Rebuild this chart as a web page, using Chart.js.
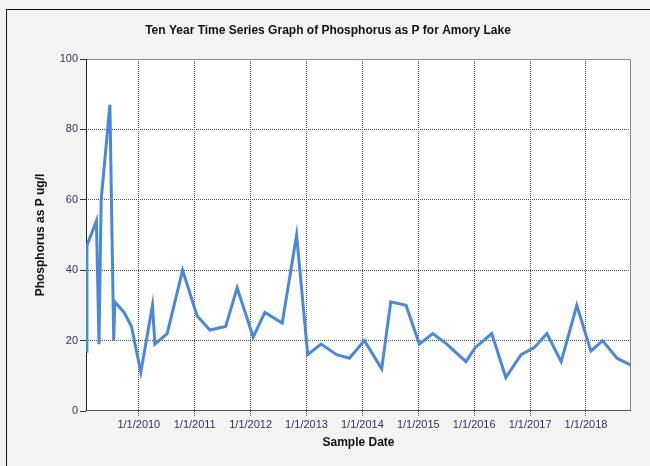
<!DOCTYPE html>
<html><head><meta charset="utf-8">
<script src="https://cdn.jsdelivr.net/npm/chart.js@4.4.1/dist/chart.umd.min.js"></script>
<style>html,body{margin:0;padding:0;background:#f3f3f3;}#wrap{width:650px;height:466px;}</style>
</head><body><div id="wrap"><canvas id="c" width="650" height="466"></canvas></div>
<script>
const chartTitle = 'Ten Year Time Series Graph of Phosphorus as P for Amory Lake';
const xTitle = 'Sample Date';
const yTitle = 'Phosphorus as P ug/l';
const sampleDates = [
  '2009-01-24','2009-01-27','2009-03-30','2009-04-16','2009-04-30','2009-06-26','2009-07-21','2009-07-28',
  '2009-09-27','2009-11-14','2010-01-14','2010-03-31','2010-04-16','2010-07-05','2010-10-14',
  '2011-01-17','2011-04-10','2011-07-22','2011-10-05','2012-01-18','2012-04-03','2012-07-26','2012-10-28',
  '2013-01-09','2013-04-06','2013-07-17','2013-10-08','2014-01-14','2014-05-07','2014-07-05','2014-10-13',
  '2015-01-08','2015-04-06','2015-07-06','2015-11-08','2016-01-07','2016-04-25','2016-07-26','2016-11-03',
  '2017-01-28','2017-04-21','2017-07-23','2017-11-02','2018-02-02','2018-04-19','2018-07-23','2018-10-22'
];
const phosphorus = [
  17, 47, 54, 19, 60, 87, 20, 31,
  28, 24, 11, 30, 19, 22, 40,
  27, 23, 24, 35, 21, 28, 25, 50,
  16, 19, 16, 15, 20, 12, 31, 30,
  19, 22, 19, 14, 18, 22, 9.5, 16,
  18, 22, 14, 30, 17, 20, 15, 13
];
const xRange = ['2009-01-21', '2018-10-22'];
const tickYears = [2010, 2011, 2012, 2013, 2014, 2015, 2016, 2017, 2018];
const yTicks = [0, 20, 40, 60, 80, 100];

function toYear(s) {
  const p = s.split('-').map(Number);
  const t = Date.UTC(p[0], p[1] - 1, p[2]);
  const a = Date.UTC(p[0], 0, 1), b = Date.UTC(p[0] + 1, 0, 1);
  return p[0] + (t - a) / (b - a);
}
const points = sampleDates.map((d, i) => ({ x: toYear(d), y: phosphorus[i] }));

Chart.defaults.font.family = "'Liberation Sans', Arial, sans-serif";

const framePlugin = {
  id: 'frame',
  beforeDraw(chart) {
    const ctx = chart.ctx, a = chart.chartArea;
    ctx.save();
    ctx.fillStyle = '#f3f3f3';
    ctx.fillRect(0, 0, chart.width, chart.height);
    ctx.fillStyle = '#111';
    ctx.fillRect(6, 9, chart.width - 6, 1);
    ctx.fillRect(6, 9, 1, chart.height - 9);
    ctx.fillStyle = '#ffffff';
    ctx.fillRect(a.left, a.top, a.right - a.left, a.bottom - a.top);
    ctx.restore();
  },
  beforeDatasetsDraw(chart) {
    const ctx = chart.ctx, a = chart.chartArea;
    ctx.save();
    ctx.lineWidth = 1;
    ctx.strokeStyle = '#8a8a8a';
    ctx.beginPath();
    ctx.moveTo(a.left, a.top + 0.5); ctx.lineTo(a.right - 0.5, a.top + 0.5); ctx.lineTo(a.right - 0.5, a.bottom);
    ctx.stroke();
    ctx.strokeStyle = '#555';
    ctx.beginPath();
    ctx.moveTo(a.left, a.bottom - 0.5); ctx.lineTo(a.right, a.bottom - 0.5);
    ctx.stroke();
    ctx.strokeStyle = '#222';
    ctx.beginPath();
    ctx.moveTo(a.left + 0.5, a.top); ctx.lineTo(a.left + 0.5, a.bottom);
    ctx.stroke();
    ctx.restore();
  }
};

new Chart(document.getElementById('c'), {
  type: 'line',
  data: {
    datasets: [{
      data: points,
      borderColor: '#4a88dc',
      borderWidth: 3,
      pointRadius: 0,
      tension: 0,
      fill: false
    }]
  },
  options: {
    responsive: false,
    animation: false,
    devicePixelRatio: 1,
    layout: { padding: { left: 25, right: 19, top: 10, bottom: 0 } },
    plugins: {
      legend: { display: false },
      tooltip: { enabled: false },
      title: {
        display: true,
        text: chartTitle,
        fullSize: true,
        color: '#111',
        font: { size: 12, weight: 'bold' },
        padding: { top: 13, bottom: 21.6 }
      }
    },
    scales: {
      x: {
        type: 'linear',
        min: toYear(xRange[0]),
        max: toYear(xRange[1]),
        afterBuildTicks: s => { s.ticks = tickYears.map(v => ({ value: v })); },
        afterFit: s => { s.height = 55; },
        ticks: {
          autoSkip: false, maxRotation: 0, minRotation: 0,
          color: '#333355', font: { size: 11 }, padding: 2,
          callback: v => '1/1/' + v
        },
        grid: {
          color: '#555', lineWidth: 1, tickLength: 5,
          tickColor: '#555', tickBorderDash: [1, 1]
        },
        border: { display: false, dash: [1, 1] },
        title: {
          display: true, text: xTitle, color: '#111',
          font: { size: 12, weight: 'bold' }, padding: { top: 0, bottom: 16 }
        }
      },
      y: {
        min: 0, max: 100,
        afterBuildTicks: s => { s.ticks = yTicks.map(v => ({ value: v })); },
        afterFit: s => { s.width = 61; },
        ticks: { color: '#333355', font: { size: 11 }, padding: 2 },
        grid: {
          color: c => (c.tick && (c.tick.value === 0 || c.tick.value === 100)) ? 'rgba(0,0,0,0)' : '#555',
          lineWidth: 1, tickLength: 6,
          tickColor: '#333', tickBorderDash: []
        },
        border: { display: false, dash: [1, 1] },
        title: {
          display: true, text: yTitle, color: '#111',
          font: { size: 12, weight: 'bold' }, padding: { top: 8, bottom: 0 }
        }
      }
    }
  },
  plugins: [framePlugin]
});
</script></body></html>
